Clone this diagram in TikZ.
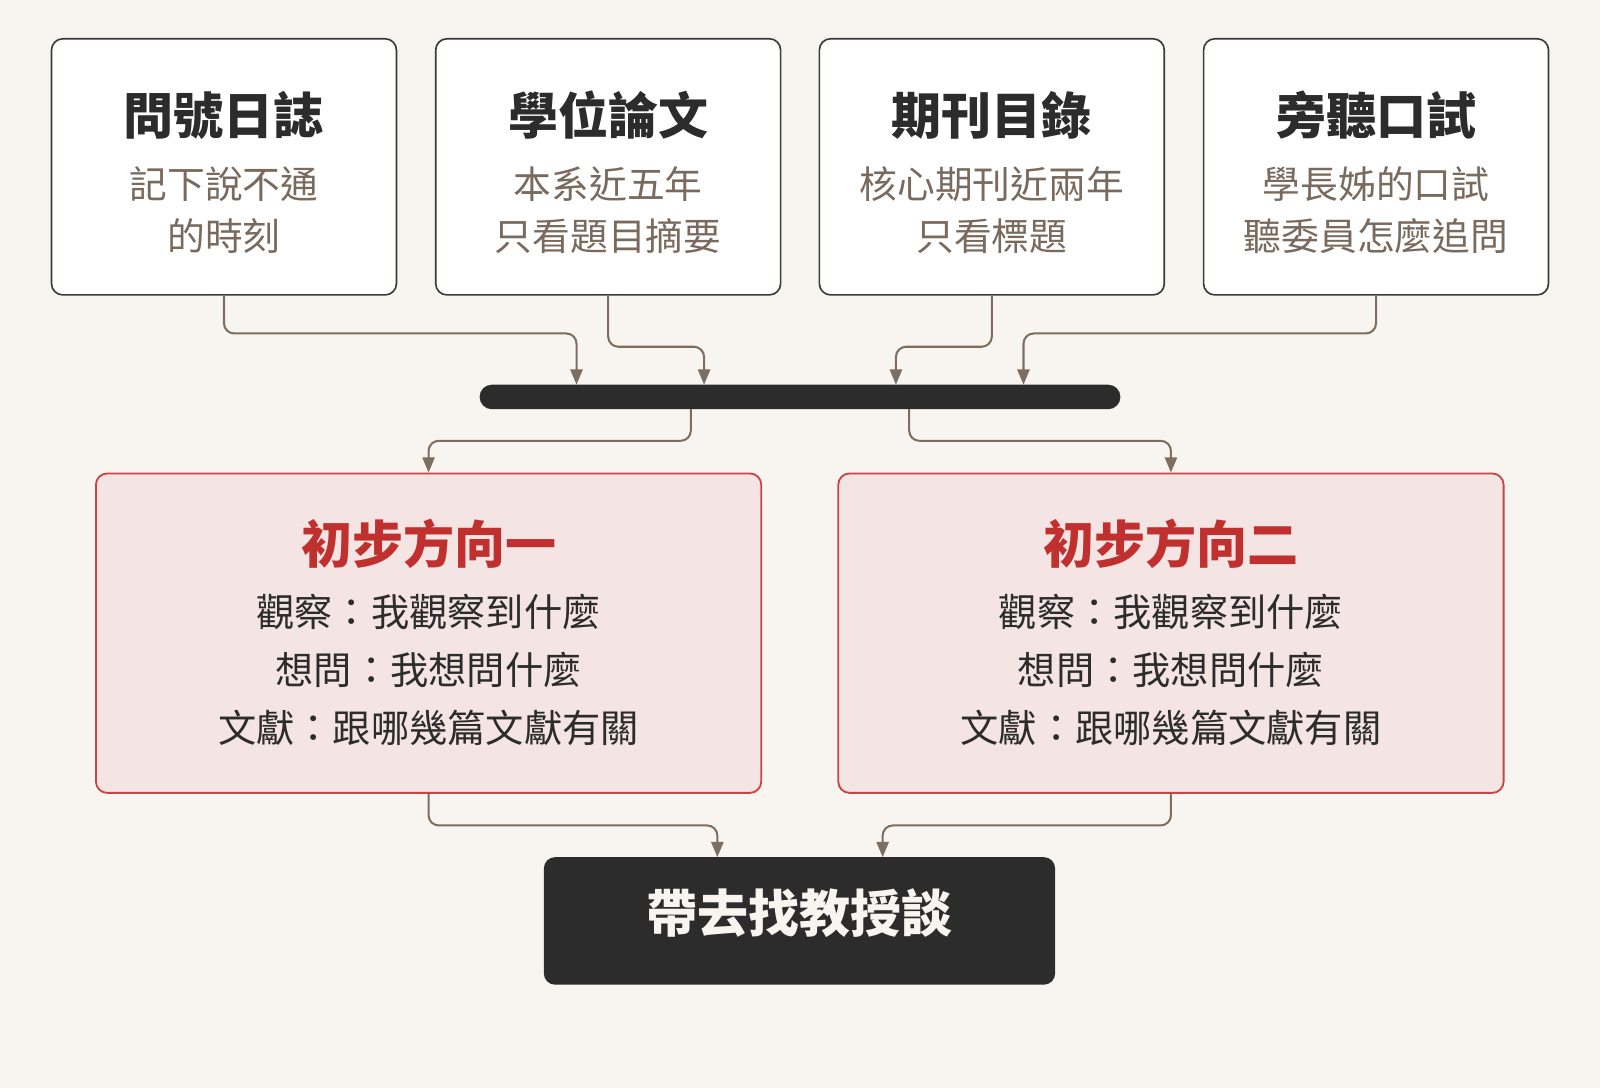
\documentclass[tikz,border=0pt]{standalone}
\usepackage{fontspec}
\setmainfont{Noto Sans CJK TC}
\usetikzlibrary{arrows.meta}

\definecolor{bgpaper}{HTML}{F8F5F1}
\definecolor{inkdark}{HTML}{2C2C2C}
\definecolor{inkline}{HTML}{3A3A3A}
\definecolor{inksub}{HTML}{7A6A5E}
\definecolor{inkconn}{HTML}{7D6E60}
\definecolor{inkred}{HTML}{C0302E}
\definecolor{edgered}{HTML}{C94545}
\definecolor{fillred}{HTML}{F4E4E3}

\tikzset{
  srcbox/.style={draw=inkline, line width=1.6pt, fill=white, rounded corners=11pt,
    minimum width=338pt, minimum height=251pt, inner sep=0pt},
  dirbox/.style={draw=edgered, line width=1.8pt, fill=fillred, rounded corners=11pt,
    minimum width=652pt, minimum height=313pt, inner sep=0pt},
  srctitle/.style={inner sep=0pt, text=inkdark, font=\fontsize{49}{56}\selectfont\bfseries},
  srcsub/.style={inner sep=0pt, text=inksub, font=\fontsize{37}{42}\selectfont},
  dirtitle/.style={inner sep=0pt, text=inkred, font=\fontsize{50}{56}\selectfont\bfseries},
  dirline/.style={inner sep=0pt, text=inkdark, font=\fontsize{37.5}{42}\selectfont},
  conn/.style={draw=inkconn, line width=2pt, rounded corners=10pt,
    -{Triangle[length=15pt,width=12pt]}},
}

\begin{document}
\begin{tikzpicture}[x=1pt,y=1pt,yscale=-1]
\fill[bgpaper] (0,0) rectangle (1568,1066.24);
\useasboundingbox (0,0) rectangle (1568,1066.24);

% sources
\node[srcbox] (b1) at (219.5,163.5) {};
\node[srctitle] (b1t) at (219.5,113) {問號日誌};
\node[srcsub] (b1s) at (219.5,180) {記下說不通};
\node[srcsub] (b1u) at (219.5,231) {的時刻};

\node[srcbox] (b2) at (596,163.5) {};
\node[srctitle] (b2t) at (596,113) {學位論文};
\node[srcsub] (b2s) at (596,180) {本系近五年};
\node[srcsub] (b2u) at (596,231) {只看題目摘要};

\node[srcbox] (b3) at (972,163.5) {};
\node[srctitle] (b3t) at (972,113) {期刊目錄};
\node[srcsub] (b3s) at (972,180) {核心期刊近兩年};
\node[srcsub] (b3u) at (972,231) {只看標題};

\node[srcbox] (b4) at (1348.5,163.5) {};
\node[srctitle] (b4t) at (1348.5,113) {旁聽口試};
\node[srcsub] (b4s) at (1348.5,180) {學長姊的口試};
\node[srcsub] (b4u) at (1348.5,231) {聽委員怎麼追問};

% join bar
\node[fill=inkdark, rounded corners=12pt, minimum width=628pt, minimum height=24pt,
  inner sep=0pt] (bar) at (784,389) {};
\coordinate (i1) at (565,377);
\coordinate (i2) at (690,377);
\coordinate (i3) at (878,377);
\coordinate (i4) at (1003,377);
\coordinate (o1) at (677,401);
\coordinate (o2) at (891,401);

\draw[conn] (b1.south) -- ++(0,37) -| (i1);
\draw[conn] (b2.south) -- ++(0,50) -| (i2);
\draw[conn] (b3.south) -- ++(0,50) -| (i3);
\draw[conn] (b4.south) -- ++(0,37) -| (i4);

% directions
\node[dirbox] (rL) at (420,620.5) {};
\node[dirtitle] (rLt) at (420,533) {初步方向一};
\node[dirline] (rLa) at (420,600) {觀察：我觀察到什麼};
\node[dirline] (rLb) at (420,657) {想問：我想問什麼};
\node[dirline] (rLc) at (420,713) {文獻：跟哪幾篇文獻有關};

\node[dirbox] (rR) at (1147.5,620.5) {};
\node[dirtitle] (rRt) at (1147.5,533) {初步方向二};
\node[dirline] (rRa) at (1147.5,600) {觀察：我觀察到什麼};
\node[dirline] (rRb) at (1147.5,657) {想問：我想問什麼};
\node[dirline] (rRc) at (1147.5,713) {文獻：跟哪幾篇文獻有關};

\draw[conn] (o1) -- ++(0,31) -| (rL.north);
\draw[conn] (o2) -- ++(0,31) -| (rR.north);

% goal
\node[fill=inkdark, rounded corners=11pt, minimum width=501pt, minimum height=125pt,
  inner sep=0pt] (goal) at (783.5,902.5) {};
\node[inner sep=0pt, text=bgpaper, font=\fontsize{50}{56}\selectfont\bfseries]
  (goalt) at (783.5,895) {帶去找教授談};
\coordinate (f1) at (703,840);
\coordinate (f2) at (865,840);

\draw[conn] (rL.south) -- ++(0,31) -| (f1);
\draw[conn] (rR.south) -- ++(0,31) -| (f2);
\end{tikzpicture}
\end{document}
